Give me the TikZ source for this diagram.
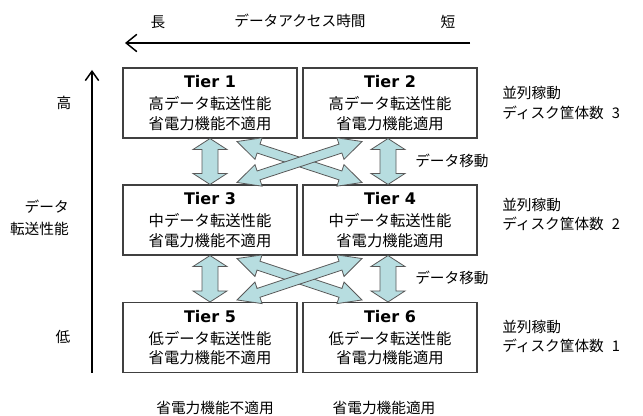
\documentclass[tikz,border=0pt]{standalone}
\usepackage{fontspec}
\setmainfont{Noto Sans CJK JP}
\newfontfamily\tierfont{DejaVu Sans}
\usetikzlibrary{calc,arrows.meta}
\definecolor{arrowfill}{RGB}{183,221,224}
\definecolor{boxline}{RGB}{64,64,64}
% #1 start, #2 end, #3 shaft half width, #4 head half width, #5 head length
\newcommand\blockarrow[5]{%
  \filldraw[barrow] (#1)
    -- ($(#1)!#5!(#2)!#4!90:(#2)$)
    -- ($(#1)!#5!(#2)!#3!90:(#2)$)
    -- ($(#2)!#5!(#1)!#3!-90:(#1)$)
    -- ($(#2)!#5!(#1)!#4!-90:(#1)$)
    -- (#2)
    -- ($(#2)!#5!(#1)!#4!90:(#1)$)
    -- ($(#2)!#5!(#1)!#3!90:(#1)$)
    -- ($(#1)!#5!(#2)!#3!-90:(#2)$)
    -- ($(#1)!#5!(#2)!#4!-90:(#2)$)
    -- cycle;}
\tikzset{
  tier/.style={draw=boxline, line width=0.8pt, minimum width=130.5pt, minimum height=52.5pt,
    align=center, inner sep=0pt, font=\fontsize{11.5}{14.5}\selectfont},
  lbl/.style={inner sep=0pt, font=\fontsize{11}{14}\selectfont},
  barrow/.style={fill=arrowfill, draw=black!65, line width=0.6pt, line join=miter},
  axis/.style={line width=1.1pt, -{Straight Barb[length=8pt,width=13pt,line width=1.1pt]}}
}
\newcommand\tiername[1]{{\tierfont\bfseries\fontsize{12}{14}\selectfont #1}}
\begin{document}
\begin{tikzpicture}[x=0.75pt,y=-0.75pt]
\path[use as bounding box] (0,0) rectangle (643,416);

% top axis
\coordinate (tr) at (470,43);
\coordinate (tl) at (125,43);
\draw[axis] (tr) -- (tl);
\node[lbl] (long) at (158,22) {長};
\node[lbl] (acc) at (300,21) {データアクセス時間};
\node[lbl] (short) at (448,22) {短};

% left axis
\coordinate (lb) at (92,373);
\coordinate (lt) at (92,70);
\draw[line width=1.1pt, -{Straight Barb[length=7pt,width=10pt,line width=1.1pt]}] (lb) -- (lt);
\node[lbl] (hi) at (64,103) {高};
\node[lbl, anchor=east] (perf1) at (69,207) {データ};
\node[lbl, anchor=east] (perf2) at (69,229) {転送性能};
\node[lbl] (lo) at (63,337) {低};

% boxes
\node[tier] (t1) at (210,103) {\tiername{Tier 1}\\[2pt] 高データ転送性能\\ 省電力機能不適用};
\node[tier] (t2) at (390,103) {\tiername{Tier 2}\\[2pt] 高データ転送性能\\ 省電力機能適用};
\node[tier] (t3) at (210,220) {\tiername{Tier 3}\\[2pt] 中データ転送性能\\ 省電力機能不適用};
\node[tier] (t4) at (390,220) {\tiername{Tier 4}\\[2pt] 中データ転送性能\\ 省電力機能適用};
\node[tier] (t5) at (210,337.5) {\tiername{Tier 5}\\[2pt] 低データ転送性能\\ 省電力機能不適用};
\node[tier] (t6) at (390,337.5) {\tiername{Tier 6}\\[2pt] 低データ転送性能\\ 省電力機能適用};

% block arrows row 1-2
\coordinate (v2a) at ($(t2.south)+(-2,0)$);
\coordinate (v2b) at ($(t4.north)+(-2,0)$);
\blockarrow{t1.south}{t3.north}{6pt}{12.75pt}{8.25pt}
\blockarrow{v2a}{v2b}{6pt}{12.75pt}{8.25pt}
\coordinate (x1a) at ($(t1.south)+(27,3)$);
\coordinate (x1b) at ($(t4.north)+(-28,-2)$);
\coordinate (x2a) at ($(t3.north)+(27,-2)$);
\coordinate (x2b) at ($(t2.south)+(-28,3)$);
\blockarrow{x1a}{x1b}{3.5pt}{8.5pt}{17pt}
\blockarrow{x2a}{x2b}{3.5pt}{8.5pt}{17pt}

% block arrows row 2-3
\coordinate (v4a) at ($(t4.south)+(-2,0)$);
\coordinate (v4b) at ($(t6.north)+(-2,0)$);
\blockarrow{t3.south}{t5.north}{6pt}{12.75pt}{8.25pt}
\blockarrow{v4a}{v4b}{6pt}{12.75pt}{8.25pt}
\coordinate (y1a) at ($(t3.south)+(27,3)$);
\coordinate (y1b) at ($(t6.north)+(-28,-2)$);
\coordinate (y2a) at ($(t5.north)+(27,-2)$);
\coordinate (y2b) at ($(t4.south)+(-28,3)$);
\blockarrow{y1a}{y1b}{3.5pt}{8.5pt}{17pt}
\blockarrow{y2a}{y2b}{3.5pt}{8.5pt}{17pt}

% move labels
\node[lbl, anchor=west] (mv1) at (415,161) {データ移動};
\node[lbl, anchor=west] (mv2) at (415,278) {データ移動};

% right labels
\node[lbl, anchor=west] (r1a) at (502,93) {並列稼動};
\node[lbl, anchor=west] (r1b) at (502,113) {ディスク筐体数\hspace{6pt}3};
\node[lbl, anchor=west] (r2a) at (502,205) {並列稼動};
\node[lbl, anchor=west] (r2b) at (502,224) {ディスク筐体数\hspace{6pt}2};
\node[lbl, anchor=west] (r3a) at (502,327) {並列稼動};
\node[lbl, anchor=west] (r3b) at (502,346) {ディスク筐体数\hspace{6pt}1};

% bottom labels
\node[lbl] (b1) at (215,408) {省電力機能不適用};
\node[lbl] (b2) at (384,408) {省電力機能適用};
\end{tikzpicture}
\end{document}
